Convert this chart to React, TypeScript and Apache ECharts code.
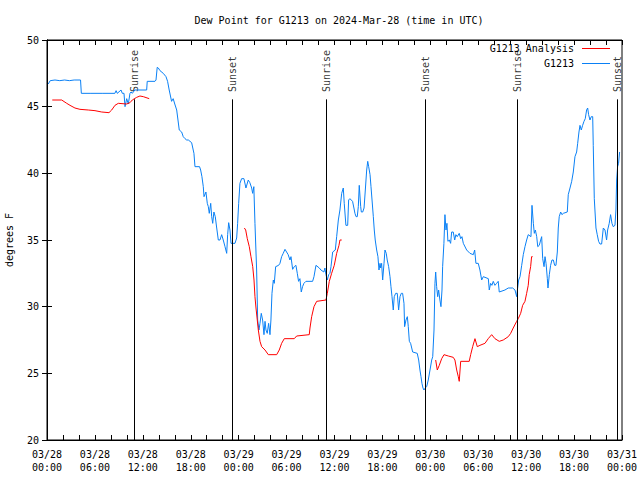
import React, { useEffect, useRef } from 'react';
import * as echarts from 'echarts';

const titleText = 'Dew Point for G1213 on 2024-Mar-28 (time in UTC)';
const yAxisName = 'degrees F';
const xTickLabels = [
  '03/28\n00:00', '03/28\n06:00', '03/28\n12:00', '03/28\n18:00',
  '03/29\n00:00', '03/29\n06:00', '03/29\n12:00', '03/29\n18:00',
  '03/30\n00:00', '03/30\n06:00', '03/30\n12:00', '03/30\n18:00',
  '03/31\n00:00',
];

// hours since 03/28 00:00 UTC
const sunHours = [10.93, 23.25, 34.97, 47.37, 58.89, 71.41];
const sunNames = ['Sunrise', 'Sunset', 'Sunrise', 'Sunset', 'Sunrise', 'Sunset'];

const analysisHours = [
  0.66, 1.84, 2.47, 2.88, 3.5, 4.13, 5.17, 6.01, 6.85, 7.76, 8.1, 8.51, 8.93, 9.98, 10.39, 10.68, 11.23, 11.64, 12.06, 12.8,
  18,
  24.71, 24.88, 25.08, 25.33, 25.54, 25.76, 25.92, 26.04, 26.17, 26.33, 26.46, 26.67, 26.88, 27.3, 27.71, 28.76, 29.08, 29.38, 29.71, 30.96, 31.26, 32.84, 32.93, 33.14, 33.43, 33.77, 34.93, 35.1, 35.35, 35.64, 35.97, 36.27, 36.56, 36.68, 36.9,
  42,
  48.67, 48.87, 49.12, 49.42, 49.71, 50.25, 50.87, 51.08, 51.3, 51.5, 51.62, 51.8, 52.87, 53.05, 53.3, 53.59, 53.88, 54.21, 54.84, 55.25, 55.68, 56.09, 56.63, 57.13, 57.76, 58.06, 58.38, 58.81, 59.01, 59.31, 59.56, 59.85, 60.06, 60.26, 60.38, 60.56, 60.68, 60.81,
];
const analysisValues = [
  45.5, 45.5, 45.25, 45.1, 44.9, 44.8, 44.75, 44.7, 44.6, 44.55, 44.75, 45.1, 45.25, 45.2, 45.3, 45.5, 45.7, 45.8, 45.75, 45.6,
  null,
  35.9, 35.75, 35.1, 34.5, 33.75, 33.0, 32.0, 30.75, 29.9, 29.0, 28.25, 27.4, 27.0, 26.75, 26.4, 26.4, 26.75, 27.25, 27.6, 27.6, 27.8, 27.9, 28.4, 29.25, 30.0, 30.4, 30.5, 31.0, 31.9, 32.5, 33.1, 34.0, 34.6, 35.0, 35.0,
  null,
  26.0, 25.25, 25.6, 26.1, 26.4, 26.3, 26.2, 26.0, 25.25, 24.75, 24.4, 25.9, 25.9, 26.4, 27.0, 27.6, 27.0, 27.1, 27.25, 27.6, 27.9, 27.6, 27.4, 27.5, 27.75, 28.0, 28.4, 28.9, 29.1, 29.5, 30.1, 30.4, 31.0, 31.6, 32.4, 33.0, 33.75, 33.75,
];

const obsHours = [
  0.16, 0.4, 1.0, 1.6, 2.2, 2.8, 3.4, 4.2, 4.3, 5.5, 7.0, 8.5, 8.65, 8.8, 9.27, 9.43, 9.64, 9.77, 9.98, 10.18,
  10.39, 10.52, 10.68, 11.0, 12.48, 12.55, 13.52, 13.65, 13.8, 13.94, 14.15, 14.56, 14.9, 15.1, 15.3, 15.6, 15.8, 16.0, 16.24, 16.56,
  16.86, 17.06, 17.28, 17.49, 17.7, 18.11, 18.4, 18.53, 19.1, 19.24, 19.4, 19.57, 19.66, 19.9, 20.07, 20.2, 20.32, 20.5, 20.62, 20.75,
  20.9, 21.07, 21.25, 21.45, 21.66, 21.87, 22.07, 22.29, 22.5, 22.62, 22.75, 22.91, 23.04, 23.54, 23.75, 23.87, 24.0, 24.16, 24.37, 24.66,
  24.91, 25.2, 25.4, 25.63, 25.75, 25.9, 26.04, 26.25, 26.38, 26.54, 26.67, 26.83, 27.0, 27.17, 27.3, 27.42, 27.58, 27.75, 27.92, 28.04,
  28.17, 28.34, 28.46, 28.63, 29.0, 29.17, 29.38, 29.58, 29.8, 30.0, 30.2, 30.42, 30.55, 30.76, 30.96, 31.17, 31.34, 31.5, 31.67, 31.84,
  32.0, 32.17, 32.42, 33.26, 33.43, 33.68, 34.1, 34.3, 34.67, 34.8, 34.93, 35.1, 35.27, 35.43, 35.56, 35.77, 36.1, 36.27, 36.48, 36.68,
  36.9, 37.1, 37.22, 37.43, 37.65, 37.77, 37.93, 38.26, 38.43, 38.56, 38.7, 38.85, 38.98, 39.1, 39.28, 39.36, 39.53, 39.7, 39.86, 40.03,
  40.16, 40.28, 40.45, 40.57, 40.7, 40.86, 40.98, 41.1, 41.28, 41.44, 41.57, 41.7, 41.78, 41.9, 42.03, 42.2, 42.32, 42.48, 42.6, 42.78,
  42.95, 43.07, 43.2, 43.36, 43.48, 43.66, 43.86, 44.03, 44.2, 44.36, 44.53, 44.7, 44.78, 44.95, 45.12, 45.24, 45.37, 45.53, 45.79, 46.36,
  46.54, 46.7, 46.83, 46.95, 47.08, 47.2, 47.37, 47.54, 47.74, 47.96, 48.17, 48.3, 48.46, 48.58, 48.67, 48.79, 48.92, 49.04, 49.2, 49.33,
  49.46, 49.54, 49.7, 49.83, 49.96, 50.08, 50.2, 50.37, 50.54, 50.67, 50.87, 51.05, 51.2, 51.37, 51.62, 51.8, 51.96, 52.13, 52.55, 52.96,
  53.38, 53.55, 53.71, 54.0, 54.21, 54.43, 54.63, 55.26, 55.38, 55.55, 55.71, 55.88, 56.09, 56.3, 56.5, 56.63, 57.34, 57.76, 58.31, 58.6,
  58.81, 58.9, 59.06, 59.23, 59.44, 59.64, 59.85, 60.06, 60.26, 60.6, 60.73, 60.9, 61.02, 61.15, 61.32, 61.45, 61.64, 61.82, 61.94, 62.07,
  62.24, 62.36, 62.49, 62.65, 62.73, 62.9, 63.06, 63.23, 63.4, 63.57, 63.73, 63.9, 64.02, 64.14, 64.32, 64.48, 64.65, 65.15, 65.27, 65.49,
  65.7, 65.9, 66.11, 66.32, 66.45, 66.61, 66.74, 66.9, 67.07, 67.24, 67.4, 67.57, 67.7, 67.82, 67.99, 68.15, 68.33, 68.4, 68.53, 68.74,
  68.9, 69.07, 69.24, 69.45, 69.66, 69.87, 70.07, 70.2, 70.4, 70.57, 70.74, 70.9, 71.12, 71.24, 71.33, 71.45, 71.57, 71.7,
];
const obsValues = [
  46.7, 46.95, 47.0, 46.95, 47.0, 46.95, 47.0, 47.0, 46.0, 46.0, 46.0, 46.0, 46.2, 46.0, 46.25, 46.0, 46.0, 45.0, 45.6, 45.2,
  46.0, 46.1, 46.0, 46.25, 46.25, 46.9, 46.9, 47.0, 47.95, 47.9, 47.7, 47.5, 47.25, 46.9, 46.25, 45.4, 45.6, 45.2, 44.75, 43.25,
  43.1, 42.75, 42.6, 42.5, 42.5, 42.3, 41.5, 40.5, 40.5, 40.25, 39.75, 39.0, 38.25, 38.6, 37.75, 37.5, 37.0, 37.75, 36.75, 36.25,
  37.1, 36.75, 35.9, 35.0, 35.0, 35.4, 35.0, 34.5, 34.0, 35.4, 36.3, 35.75, 34.75, 34.75, 35.15, 36.25, 37.75, 39.25, 39.6, 39.6,
  38.9, 39.5, 39.3, 38.9, 38.5, 39.0, 36.25, 32.75, 29.0, 28.25, 28.75, 29.5, 29.0, 27.9, 28.9, 28.25, 28.0, 28.75, 27.9, 29.0,
  31.0, 32.0, 31.75, 33.0, 33.1, 33.25, 33.75, 34.0, 34.3, 34.1, 33.9, 33.5, 33.75, 32.8, 33.0, 33.1, 32.5, 31.9, 32.1, 31.1,
  31.5, 31.75, 31.9, 31.9, 32.25, 33.1, 32.9, 32.75, 32.6, 32.9, 32.4, 32.0, 32.4, 32.5, 33.0, 34.1, 34.25, 35.25, 36.5, 37.25,
  38.5, 38.9, 37.75, 36.1, 36.1, 38.0, 38.1, 37.9, 37.4, 37.0, 36.75, 36.75, 37.5, 39.1, 37.5, 37.1, 37.1, 37.4, 38.75, 40.25,
  40.9, 40.5, 39.9, 39.0, 38.0, 36.75, 35.75, 35.0, 34.25, 33.75, 32.75, 33.25, 32.9, 33.25, 32.0, 33.25, 34.25, 34.0, 33.5, 33.0,
  32.25, 31.5, 30.75, 29.75, 30.75, 31.0, 31.0, 29.75, 30.75, 31.0, 31.0, 30.25, 28.5, 29.0, 29.25, 28.5, 27.4, 27.25, 26.6, 26.5,
  26.0, 25.25, 24.75, 24.25, 23.9, 23.75, 23.9, 24.0, 24.5, 25.25, 26.0, 26.25, 28.25, 31.75, 32.6, 31.5, 30.75, 31.25, 30.5, 30.0,
  31.25, 33.0, 34.75, 36.9, 35.75, 36.25, 34.9, 35.0, 34.75, 35.6, 35.6, 35.0, 35.4, 35.25, 35.5, 35.1, 35.25, 34.75, 34.25, 34.0,
  33.9, 34.25, 33.25, 33.25, 32.75, 32.0, 32.25, 32.1, 31.25, 31.75, 31.6, 31.9, 31.6, 31.75, 31.9, 31.1, 31.25, 31.4, 31.4, 31.25,
  30.75, 31.25, 32.0, 32.25, 33.1, 33.9, 34.5, 35.0, 35.4, 35.25, 37.6, 36.25, 35.5, 35.75, 35.25, 34.5, 34.6, 35.0, 35.25, 33.6,
  33.0, 33.75, 33.25, 32.1, 31.4, 32.4, 33.1, 33.5, 33.5, 33.1, 33.1, 34.1, 35.9, 36.75, 37.1, 36.9, 37.0, 37.1, 38.4, 38.9,
  39.4, 40.1, 41.25, 41.6, 42.25, 43.1, 43.6, 43.25, 43.6, 43.9, 44.1, 44.75, 44.9, 44.4, 44.0, 44.25, 44.25, 42.1, 38.1, 35.9,
  35.4, 34.9, 34.7, 34.7, 35.9, 35.75, 35.0, 35.75, 36.25, 36.9, 36.25, 36.0, 36.1, 37.25, 39.5, 40.5, 40.75, 41.6,
];

const FONT = 'DejaVu Sans Mono';
const SUN_LINE_TOP = 45.55;
const SUN_LABEL_BASE = 46.1;

export default function App() {
  const ref = useRef<HTMLDivElement>(null);
  useEffect(() => {
    if (!ref.current) return;
    const chart = echarts.init(ref.current, undefined, { renderer: 'svg' });
    const xCommon = {
      type: 'value' as const,
      min: 0,
      max: 72,
      interval: 6,
      splitLine: { show: false },
      axisLine: { show: true, lineStyle: { color: '#000', width: 1 } },
      axisTick: { show: true, inside: true, length: 5, lineStyle: { color: '#000' } },
      minorTick: { show: true, splitNumber: 3, length: 5, lineStyle: { color: '#000' } },
    };
    const yCommon = {
      type: 'value' as const,
      min: 20,
      max: 50,
      interval: 5,
      splitLine: { show: false },
      axisLine: { show: true, lineStyle: { color: '#000', width: 1 } },
      axisTick: { show: true, inside: true, length: 5, lineStyle: { color: '#000' } },
    };
    chart.setOption({
      animation: false,
      backgroundColor: '#fff',
      textStyle: { fontFamily: FONT },
      title: {
        text: titleText,
        left: 334,
        textAlign: 'center',
        top: 10,
        textStyle: { fontFamily: FONT, fontSize: 10, fontWeight: 'normal', color: '#000' },
      },
      legend: {
        data: ['G1213 Analysis', 'G1213'],
        orient: 'vertical',
        right: 25,
        top: 38,
        align: 'right',
        icon: 'rect',
        itemWidth: 28,
        itemHeight: 1,
        itemGap: 4,
        textStyle: { fontFamily: FONT, fontSize: 10, color: '#000', lineHeight: 11, padding: [0, 3, 0, 0] },
      },
      grid: {
        left: 47, right: 18, top: 40, bottom: 40,
        show: true, borderColor: '#000', borderWidth: 1, backgroundColor: 'transparent',
        containLabel: false,
        outerBoundsMode: 'none',
      },
      xAxis: [
        {
          ...xCommon,
          position: 'bottom',
          axisLabel: {
            show: true,
            margin: 8,
            fontFamily: FONT,
            fontSize: 10,
            lineHeight: 13,
            color: '#000',
            formatter: (v: number) => xTickLabels[Math.round(v / 6)] ?? '',
          },
        },
        { ...xCommon, position: 'top', axisLabel: { show: false } },
      ],
      yAxis: [
        {
          ...yCommon,
          position: 'left',
          name: yAxisName,
          nameLocation: 'middle',
          nameRotate: 90,
          nameGap: 33,
          nameTextStyle: { fontFamily: FONT, fontSize: 10, color: '#000' },
          axisLabel: { show: true, margin: 8, fontFamily: FONT, fontSize: 10, color: '#000' },
        },
        { ...yCommon, position: 'right', axisLabel: { show: false } },
      ],
      series: [
        {
          name: 'sun',
          type: 'scatter',
          symbolSize: 0,
          silent: true,
          data: sunHours.map((t, i) => ({ value: [t, SUN_LABEL_BASE], name: sunNames[i] })),
          label: {
            show: true,
            position: 'inside',
            rotate: 90,
            align: 'left',
            verticalAlign: 'middle',
            formatter: (p: any) => p.name,
            fontFamily: FONT,
            fontSize: 10,
            color: '#000',
          },
          markLine: {
            silent: true,
            symbol: ['none', 'none'],
            label: { show: false },
            lineStyle: { color: '#000', width: 1, type: 'solid' },
            data: sunHours.map((t) => [{ coord: [t, 20] }, { coord: [t, SUN_LINE_TOP] }]),
          },
          z: 1,
        },
        {
          name: 'G1213 Analysis',
          type: 'line',
          symbol: 'none',
          showSymbol: false,
          connectNulls: false,
          lineStyle: { color: '#ff0000', width: 1 },
          itemStyle: { color: '#ff0000' },
          data: analysisHours.map((h, i) => [h, analysisValues[i]]),
          z: 3,
        },
        {
          name: 'G1213',
          type: 'line',
          symbol: 'none',
          showSymbol: false,
          lineStyle: { color: '#0a80f5', width: 1 },
          itemStyle: { color: '#0a80f5' },
          data: obsHours.map((h, i) => [h, obsValues[i]]),
          z: 2,
        },
      ],
    });
    return () => chart.dispose();
  }, []);
  return <div ref={ref} style={{ position: 'fixed', left: 0, top: 0, width: 640, height: 480 }} />;
}
